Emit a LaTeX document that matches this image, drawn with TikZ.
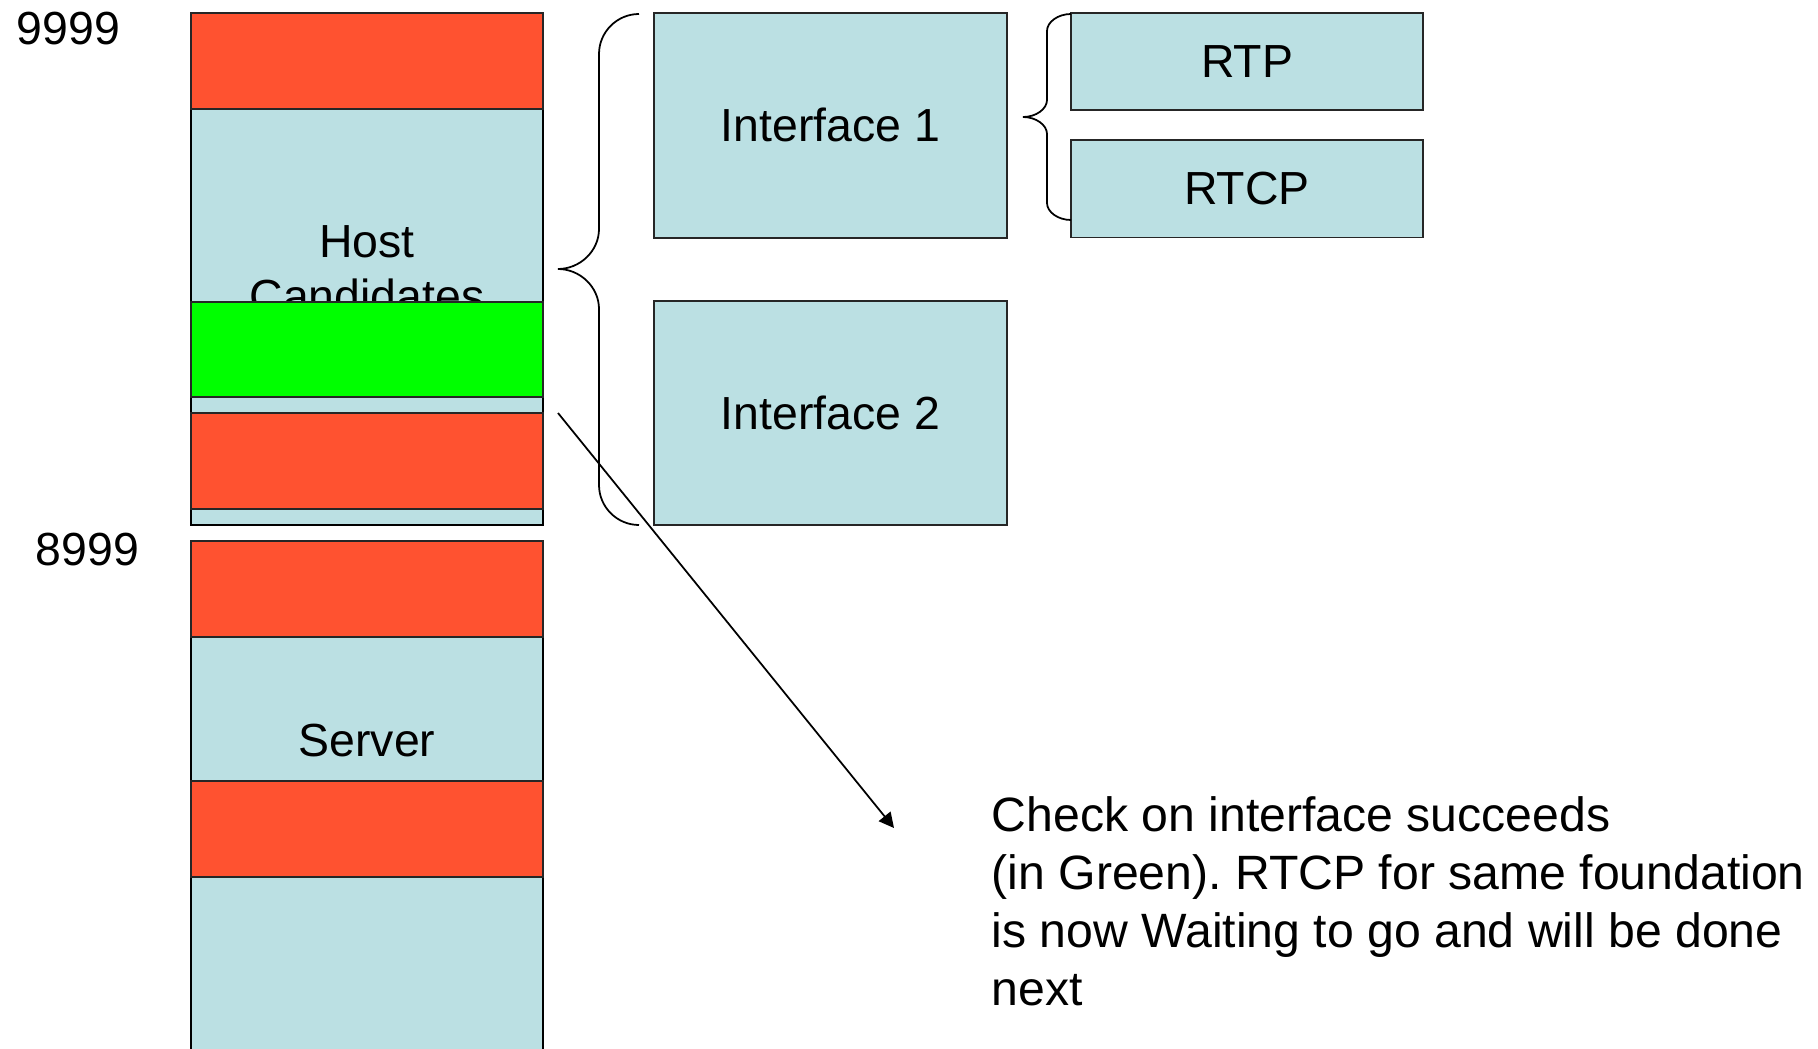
\documentclass[tikz,border=0pt]{standalone}
\usepackage{fontspec}
\setmainfont{Liberation Sans}
\usetikzlibrary{arrows.meta}
\frenchspacing

\definecolor{bandred}{RGB}{255,82,48}
\definecolor{paleblue}{RGB}{187,224,227}
\definecolor{okgreen}{RGB}{0,255,0}

\newcommand\diagfont{\fontsize{13.2pt}{15.6pt}\selectfont}
\newcommand\notefont{\fontsize{13.7pt}{16.5pt}\selectfont}

\begin{document}
\begin{tikzpicture}[x=0.01cm, y=-0.01cm,
  column/.style={draw=black, line width=0.7pt, fill=paleblue, inner sep=0pt,
                 minimum width=3.52cm, font=\diagfont, align=center},
  band/.style={draw=black!85, line width=0.55pt, inner sep=0pt,
               minimum width=3.52cm, minimum height=0.96cm},
  ifbox/.style={draw=black!85, line width=0.55pt, fill=paleblue, inner sep=0pt,
                font=\diagfont},
  bracket/.style={draw=black, line width=0.5pt},
  pointer/.style={draw=black, line width=0.5pt, -{Triangle[length=0.15cm, width=0.15cm]}},
  plain/.style={inner sep=0pt, font=\diagfont}
]
\useasboundingbox (0,0) rectangle (1818,1049);
\clip (0,0) rectangle (1818,1049);

% port range labels
\node[plain, anchor=base west] (top9999) at (16,45) {9999};
\node[plain, anchor=base west] (top8999) at (35,565) {8999};

% host candidate column with its check bands
\node[column, minimum height=5.12cm] (host) at (367,269) {Host\\Candidates};
\node[band, fill=bandred] (hostA) at (367,61) {};
\node[band, fill=okgreen, minimum height=0.95cm] (hostB) at (367,349.5) {};
\node[band, fill=bandred] (hostC) at (367,461) {};

% server candidate column, running past the lower edge
\node[column, minimum height=5.6cm] (server) at (367,821) {};
\node[plain] (serverlabel) at (367,741) {Server};
\node[band, fill=bandred] (serverA) at (367,589) {};
\node[band, fill=bandred] (serverB) at (367,829) {};

% interfaces and components
\node[ifbox, minimum width=3.53cm, minimum height=2.245cm] (if1) at (830.5,125.3) {Interface 1};
\node[ifbox, minimum width=3.53cm, minimum height=2.24cm] (if2) at (830.5,413.3) {Interface 2};
\node[ifbox, minimum width=3.52cm, minimum height=0.965cm] (rtp) at (1247,61.3) {RTP};
\node[ifbox, minimum width=3.52cm, minimum height=0.97cm] (rtcp) at (1247,189) {RTCP};

% brace grouping the two interfaces
\coordinate (bigtop) at (639,14);
\coordinate (bigtip) at (558,269);
\coordinate (bigbot) at (639,525);
\draw[bracket] (bigtop) .. controls (617,14) and (599,32) .. (599,54)
  -- (599,229) .. controls (599,251) and (580,269) .. (bigtip)
  .. controls (580,269) and (599,287) .. (599,309)
  -- (599,485) .. controls (599,507) and (617,525) .. (bigbot);

% brace grouping RTP and RTCP
\coordinate (smalltop) at (1071,14);
\coordinate (smalltip) at (1023,117);
\coordinate (smallbot) at (1071,220);
\draw[bracket] (smalltop) .. controls (1058,14) and (1047,22) .. (1047,31)
  -- (1047,100) .. controls (1047,109) and (1036,117) .. (smalltip)
  .. controls (1036,117) and (1047,125) .. (1047,134)
  -- (1047,203) .. controls (1047,212) and (1058,220) .. (smallbot);

% explanatory note and its pointer
\node[inner sep=0pt, anchor=north west, align=left, font=\notefont] (note) at (991,796)
  {Check on interface succeeds\\(in Green). RTCP for same foundation\\is now Waiting to go and will be done\\next};
\coordinate (pointfrom) at (558,413);
\coordinate (pointto) at (894,828);
\draw[pointer] (pointfrom) -- (pointto);
\end{tikzpicture}
\end{document}
